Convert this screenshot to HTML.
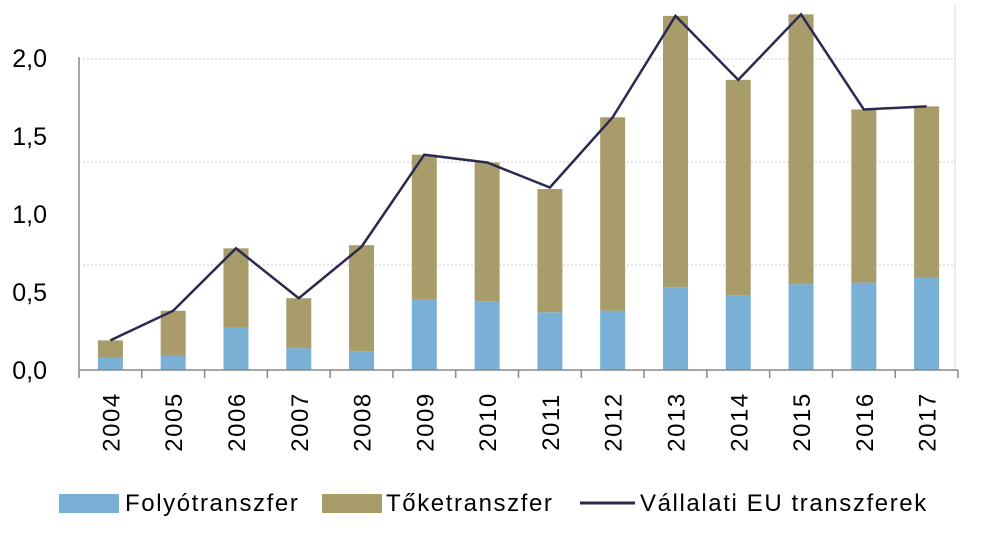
<!DOCTYPE html>
<html><head><meta charset="utf-8"><style>
body{margin:0;background:#fff;}
svg{display:block;font-family:"Liberation Sans",sans-serif;}
</style></head><body>
<svg id="chart" width="989" height="543" viewBox="0 0 989 543" xmlns="http://www.w3.org/2000/svg"></svg>
<script>
const years=["2004","2005","2006","2007","2008","2009","2010","2011","2012","2013","2014","2015","2016","2017"];
const folyo=[0.08,0.09,0.27,0.14,0.12,0.45,0.44,0.37,0.38,0.53,0.48,0.55,0.56,0.59];
const total=[0.19,0.38,0.78,0.46,0.80,1.38,1.33,1.16,1.62,2.27,1.86,2.28,1.67,1.69];
const lineVals=[0.19,0.38,0.78,0.46,0.79,1.38,1.33,1.17,1.62,2.27,1.86,2.28,1.67,1.69];
const yTicks=[0,0.5,1.0,1.5,2.0];
const yTickLabels=["0,0","0,5","1,0","1,5","2,0"];
const NS="http://www.w3.org/2000/svg";
const svg=document.getElementById('chart');
const x0=79,x1=958,base=370,ppu=156;
const step=(x1-x0)/years.length;
const xC=i=>x0+step*(i+0.5);
const yV=v=>base-v*ppu;
function mk(t,a,p){const e=document.createElementNS(NS,t);for(const k in a)e.setAttribute(k,a[k]);(p||svg).appendChild(e);return e;}
[59,162,265].forEach(gy=>{const g=mk('line',{x1:x0+4,x2:x1-2,y1:gy,y2:gy,stroke:'#c8c8c8','stroke-width':1,'stroke-dasharray':'2,2'});

});
const rb=mk('line',{x1:955,x2:955,y1:5,y2:370,stroke:'#d8d8d8','stroke-width':1});


const ya=mk('line',{x1:x0,x2:x0,y1:57,y2:370,stroke:'#888','stroke-width':1.5});


yTicks.forEach((v,i)=>{const t=mk('text',{x:47,y:yV(v)+9,'text-anchor':'end','font-size':25,fill:'#000'});t.textContent=yTickLabels[i];

});
years.forEach((yr,i)=>{
const w=25,bx=xC(i)-w/2;
const b1=mk('rect',{x:bx,y:yV(folyo[i]),width:w,height:folyo[i]*ppu,fill:'#7aafd6'});


const b2=mk('rect',{x:bx,y:yV(total[i]),width:w,height:(total[i]-folyo[i])*ppu,fill:'#a89c6b'});


const t=mk('text',{transform:`translate(${xC(i)+9},${422}) rotate(-90)`,'text-anchor':'middle','font-size':24,'letter-spacing':1.5,fill:'#000'});t.textContent=yr;


});
const xa=mk('line',{x1:x0,x2:x1,y1:base,y2:base,stroke:'#888','stroke-width':1.5});


for(let i=0;i<=years.length;i++){const tk=mk('line',{x1:x0+step*i,x2:x0+step*i,y1:base,y2:base+8,stroke:'#888','stroke-width':1.5});

}
const pl=mk('polyline',{points:lineVals.map((v,i)=>xC(i)+','+yV(v)).join(' '),fill:'none',stroke:'#2b2a4e','stroke-width':2.5,'stroke-linejoin':'miter'});


const lg=mk('g',{});


const s1=mk('rect',{x:59,y:494,width:60,height:19,fill:'#7aafd6'},lg);


const t1=mk('text',{x:125,y:511,'font-size':24,'letter-spacing':1.6,fill:'#000'},lg);t1.textContent='Folyótranszfer';


const s2=mk('rect',{x:322,y:494,width:60,height:19,fill:'#a89c6b'},lg);


const t2=mk('text',{x:386,y:511,'font-size':24,'letter-spacing':1.6,fill:'#000'},lg);t2.textContent='Tőketranszfer';


const s3=mk('line',{x1:580,x2:635,y1:503,y2:503,stroke:'#2b2a4e','stroke-width':3},lg);


const t3=mk('text',{x:640,y:511,'font-size':24,'letter-spacing':1.6,fill:'#000'},lg);t3.textContent='Vállalati EU transzferek';


</script>
</body></html>
